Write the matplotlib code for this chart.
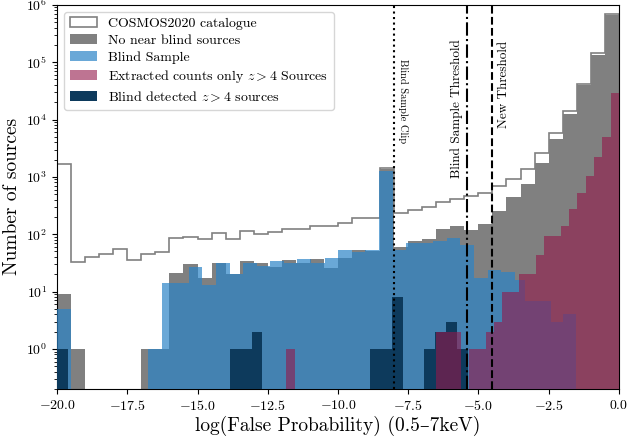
import matplotlib
matplotlib.use("Agg")
import matplotlib.pyplot as plt
from matplotlib.ticker import NullFormatter
import numpy as np

plt.rcParams['font.family'] = ['cmr10', 'DejaVu Serif']
plt.rcParams['mathtext.fontset'] = 'cm'
plt.rcParams['axes.formatter.use_mathtext'] = True

# full catalogue and sources with no nearby blind detection, 0.5 wide bins
cat_edges = np.linspace(-20, 0, 41)
cosmos = [1700, 33, 40, 46, 55, 36, 46, 49, 87, 91, 84, 103, 83, 116, 99, 108,
          121, 124, 140, 140, 154, 190, 190, 1440, 230, 262, 300, 362, 415, 460,
          515, 690, 927, 1385, 2560, 5720, 14000, 42500, 146000, 682000]
no_near = [9, 1, 0, 0, 0, 0, 1, 1, 21, 30, 17, 32, 20, 34, 32, 27,
           35, 31, 37, 26, 39, 53, 50, 1385, 60, 75, 82, 124, 138, 117,
           152, 252, 450, 737, 1715, 4500, 12400, 40000, 133000, 657000]

# blind sample
blind_edges = np.concatenate([[-20.0, -19.5],
                              -16.76 + 0.4835 * np.arange(28),
                              [-3.35, -2.93, -2.40, -1.98, -1.51]])
blind = [5, 0,
         1, 14, 14, 27, 13, 32, 20, 32, 28, 34, 31, 37, 32, 39, 53, 48, 54,
         1260, 52, 71, 71, 75, 87, 66, 17, 24, 22,
         16, 6.8, 6.8, 3, 4]

# z > 4 sources with extracted counts only
extr_edges = np.linspace(-11.84, 0, 41)
extracted = [1, 0, 0, 0, 0, 0, 0, 0, 0, 0, 0, 0, 0, 0, 0, 0, 0, 0,
             2, 2, 2, 0, 1, 1, 2, 3, 10, 10, 20, 20, 44, 92, 92, 138,
             277, 514, 1030, 2240, 5000, 29500]

# blind detected z > 4 sources
det_edges = np.linspace(-20, 0, 53)
detected = np.zeros(52)
detected[[0, 16, 17, 18, 29, 30, 31, 34, 35, 36, 37]] = [1, 1, 1, 2, 1, 1, 8, 1, 2, 3, 1]

clip = -8.0
old_thresh = -5.42
new_thresh = -4.5

fig = plt.figure(figsize=(6.27, 4.43), dpi=100)
ax = fig.add_axes([0.091, 0.122, 0.896, 0.867])
ax.set_yscale('log')

ax.hist(cat_edges[:-1], bins=cat_edges, weights=cosmos, histtype='stepfilled',
        facecolor='white', edgecolor='#808080', lw=1.2, log=True, zorder=1,
        label='COSMOS2020 catalogue')
ax.hist(cat_edges[:-1], bins=cat_edges, weights=no_near, histtype='stepfilled',
        color='#808080', log=True, zorder=2, label='No near blind sources')
ax.hist(blind_edges[:-1], bins=blind_edges, weights=blind, histtype='stepfilled',
        color='#2b83c6', alpha=0.7, log=True, zorder=3, label='Blind Sample')
ax.hist(det_edges[:-1], bins=det_edges, weights=detected, histtype='stepfilled',
        color='#0d3a5c', log=True, zorder=4, label='Blind detected $z>4$ sources')
ax.hist(extr_edges[:-1], bins=extr_edges, weights=extracted, histtype='stepfilled',
        color='#93184a', alpha=0.6, log=True, zorder=5,
        label='Extracted counts only $z>4$ Sources')

ax.axvline(clip, color='k', ls=':', lw=1.5, zorder=6)
ax.axvline(old_thresh, color='k', ls='-.', lw=1.5, zorder=6)
ax.axvline(new_thresh, color='k', ls='--', lw=1.5, zorder=6)

trans = ax.get_xaxis_transform()
ax.text(clip + 0.12, 0.86, 'Blind Sample Clip', rotation=270, fontsize=7.5,
        ha='left', va='top', transform=trans)
ax.text(old_thresh - 0.12, 0.91, 'Blind Sample Threshold', rotation=90, fontsize=9.5,
        ha='right', va='top', transform=trans)
ax.text(new_thresh + 0.18, 0.905, 'New Threshold', rotation=90, fontsize=9.5,
        ha='left', va='top', transform=trans)

ax.set_xlim(-20, 0)
ax.set_ylim(0.2, 1e6)
ax.yaxis.set_minor_formatter(NullFormatter())
ax.set_xlabel('log(False Probability) (0.5–7keV)', fontsize=14, labelpad=2)
ax.set_ylabel('Number of sources', fontsize=14)

h, l = ax.get_legend_handles_labels()
order = [0, 1, 2, 4, 3]
ax.legend([h[i] for i in order], [l[i] for i in order], loc='upper left',
          fontsize=10, labelspacing=0.3)

fig.savefig('out.png', dpi=100)
